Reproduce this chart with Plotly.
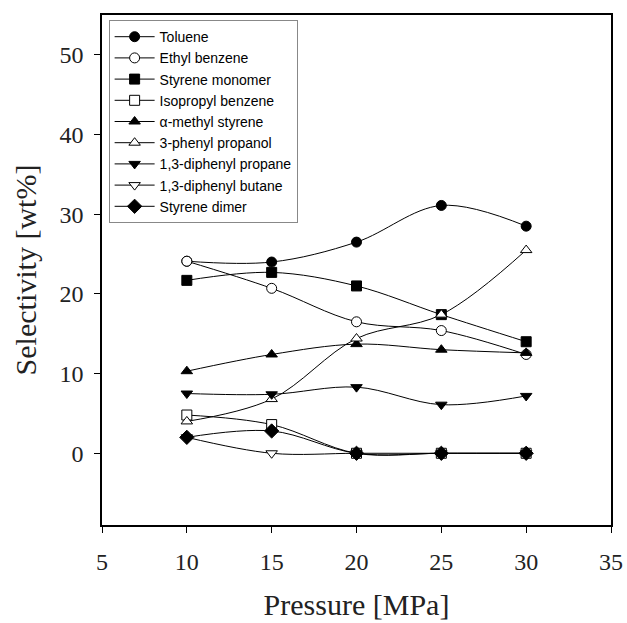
import plotly.graph_objects as go

pressure = [10, 15, 20, 25, 30]

toluene = [24.1, 24.0, 26.5, 31.1, 28.5]
ethyl_benzene = [24.1, 20.7, 16.5, 15.4, 12.4]
styrene_monomer = [21.7, 22.7, 21.0, 17.4, 14.0]
isopropyl_benzene = [4.8, 3.6, 0.0, 0.0, 0.0]
a_methyl_styrene = [10.3, 12.4, 13.7, 13.0, 12.6]
phenyl_propanol = [4.0, 6.8, 14.4, 17.4, 25.5]
diphenyl_propane = [7.5, 7.4, 8.3, 6.1, 7.2]
diphenyl_butane = [2.0, 0.0, 0.0, 0.0, 0.0]
styrene_dimer = [2.0, 2.8, 0.0, 0.0, 0.0]

series = [
    ("Toluene", toluene, "circle", "black"),
    ("Ethyl benzene", ethyl_benzene, "circle", "white"),
    ("Styrene monomer", styrene_monomer, "square", "black"),
    ("Isopropyl benzene", isopropyl_benzene, "square", "white"),
    ("\u03b1-methyl styrene", a_methyl_styrene, "triangle-up", "black"),
    ("3-phenyl propanol", phenyl_propanol, "triangle-up", "white"),
    ("1,3-diphenyl propane", diphenyl_propane, "triangle-down", "black"),
    ("1,3-diphenyl butane", diphenyl_butane, "triangle-down", "white"),
    ("Styrene dimer", styrene_dimer, "diamond", "black"),
]

fig = go.Figure()
for name, vals, sym, fill in series:
    fig.add_trace(go.Scatter(
        x=pressure, y=vals, name=name, mode="lines+markers",
        line=dict(color="black", width=1, shape="spline", smoothing=1),
        marker=dict(symbol=sym, size=10 if sym != "diamond" else 11, color=fill,
                    line=dict(color="black", width=1)),
    ))

serif = "Liberation Serif, Times New Roman, serif"
fig.update_layout(
    width=627, height=623,
    margin=dict(l=102, r=16, t=15, b=98),
    plot_bgcolor="white", paper_bgcolor="white",
    showlegend=True,
    legend=dict(x=0.013, y=0.99, xanchor="left", yanchor="top",
                bordercolor="#888888", borderwidth=1, bgcolor="white",
                font=dict(family="Liberation Sans, Arial, sans-serif", size=14, color="black"),
                tracegroupgap=0, itemwidth=40),
    xaxis=dict(range=[5, 35], tickvals=[5, 10, 15, 20, 25, 30, 35],
               automargin=False,
               showgrid=False, zeroline=False, showline=True, linecolor="black",
               linewidth=1.5, mirror=True, ticks="outside", ticklen=6,
               tickcolor="black", tickwidth=1, ticklabelstandoff=8,
               tickfont=dict(family=serif, size=24, color="#222"),
               title=dict(text="Pressure [MPa]", font=dict(family=serif, size=30, color="#222"),
                          standoff=20)),
    yaxis=dict(range=[-9, 55], tickvals=[0, 10, 20, 30, 40, 50],
               automargin=False,
               showgrid=False, zeroline=False, showline=True, linecolor="black",
               linewidth=1.5, mirror=True, ticks="outside", ticklen=6,
               tickcolor="black", tickwidth=1, ticklabelstandoff=6,
               tickfont=dict(family=serif, size=24, color="#222"),
               title=dict(text="Selectivity [wt%]", font=dict(family=serif, size=30, color="#222"),
                          standoff=14)),
)

fig.write_html("out.html")
